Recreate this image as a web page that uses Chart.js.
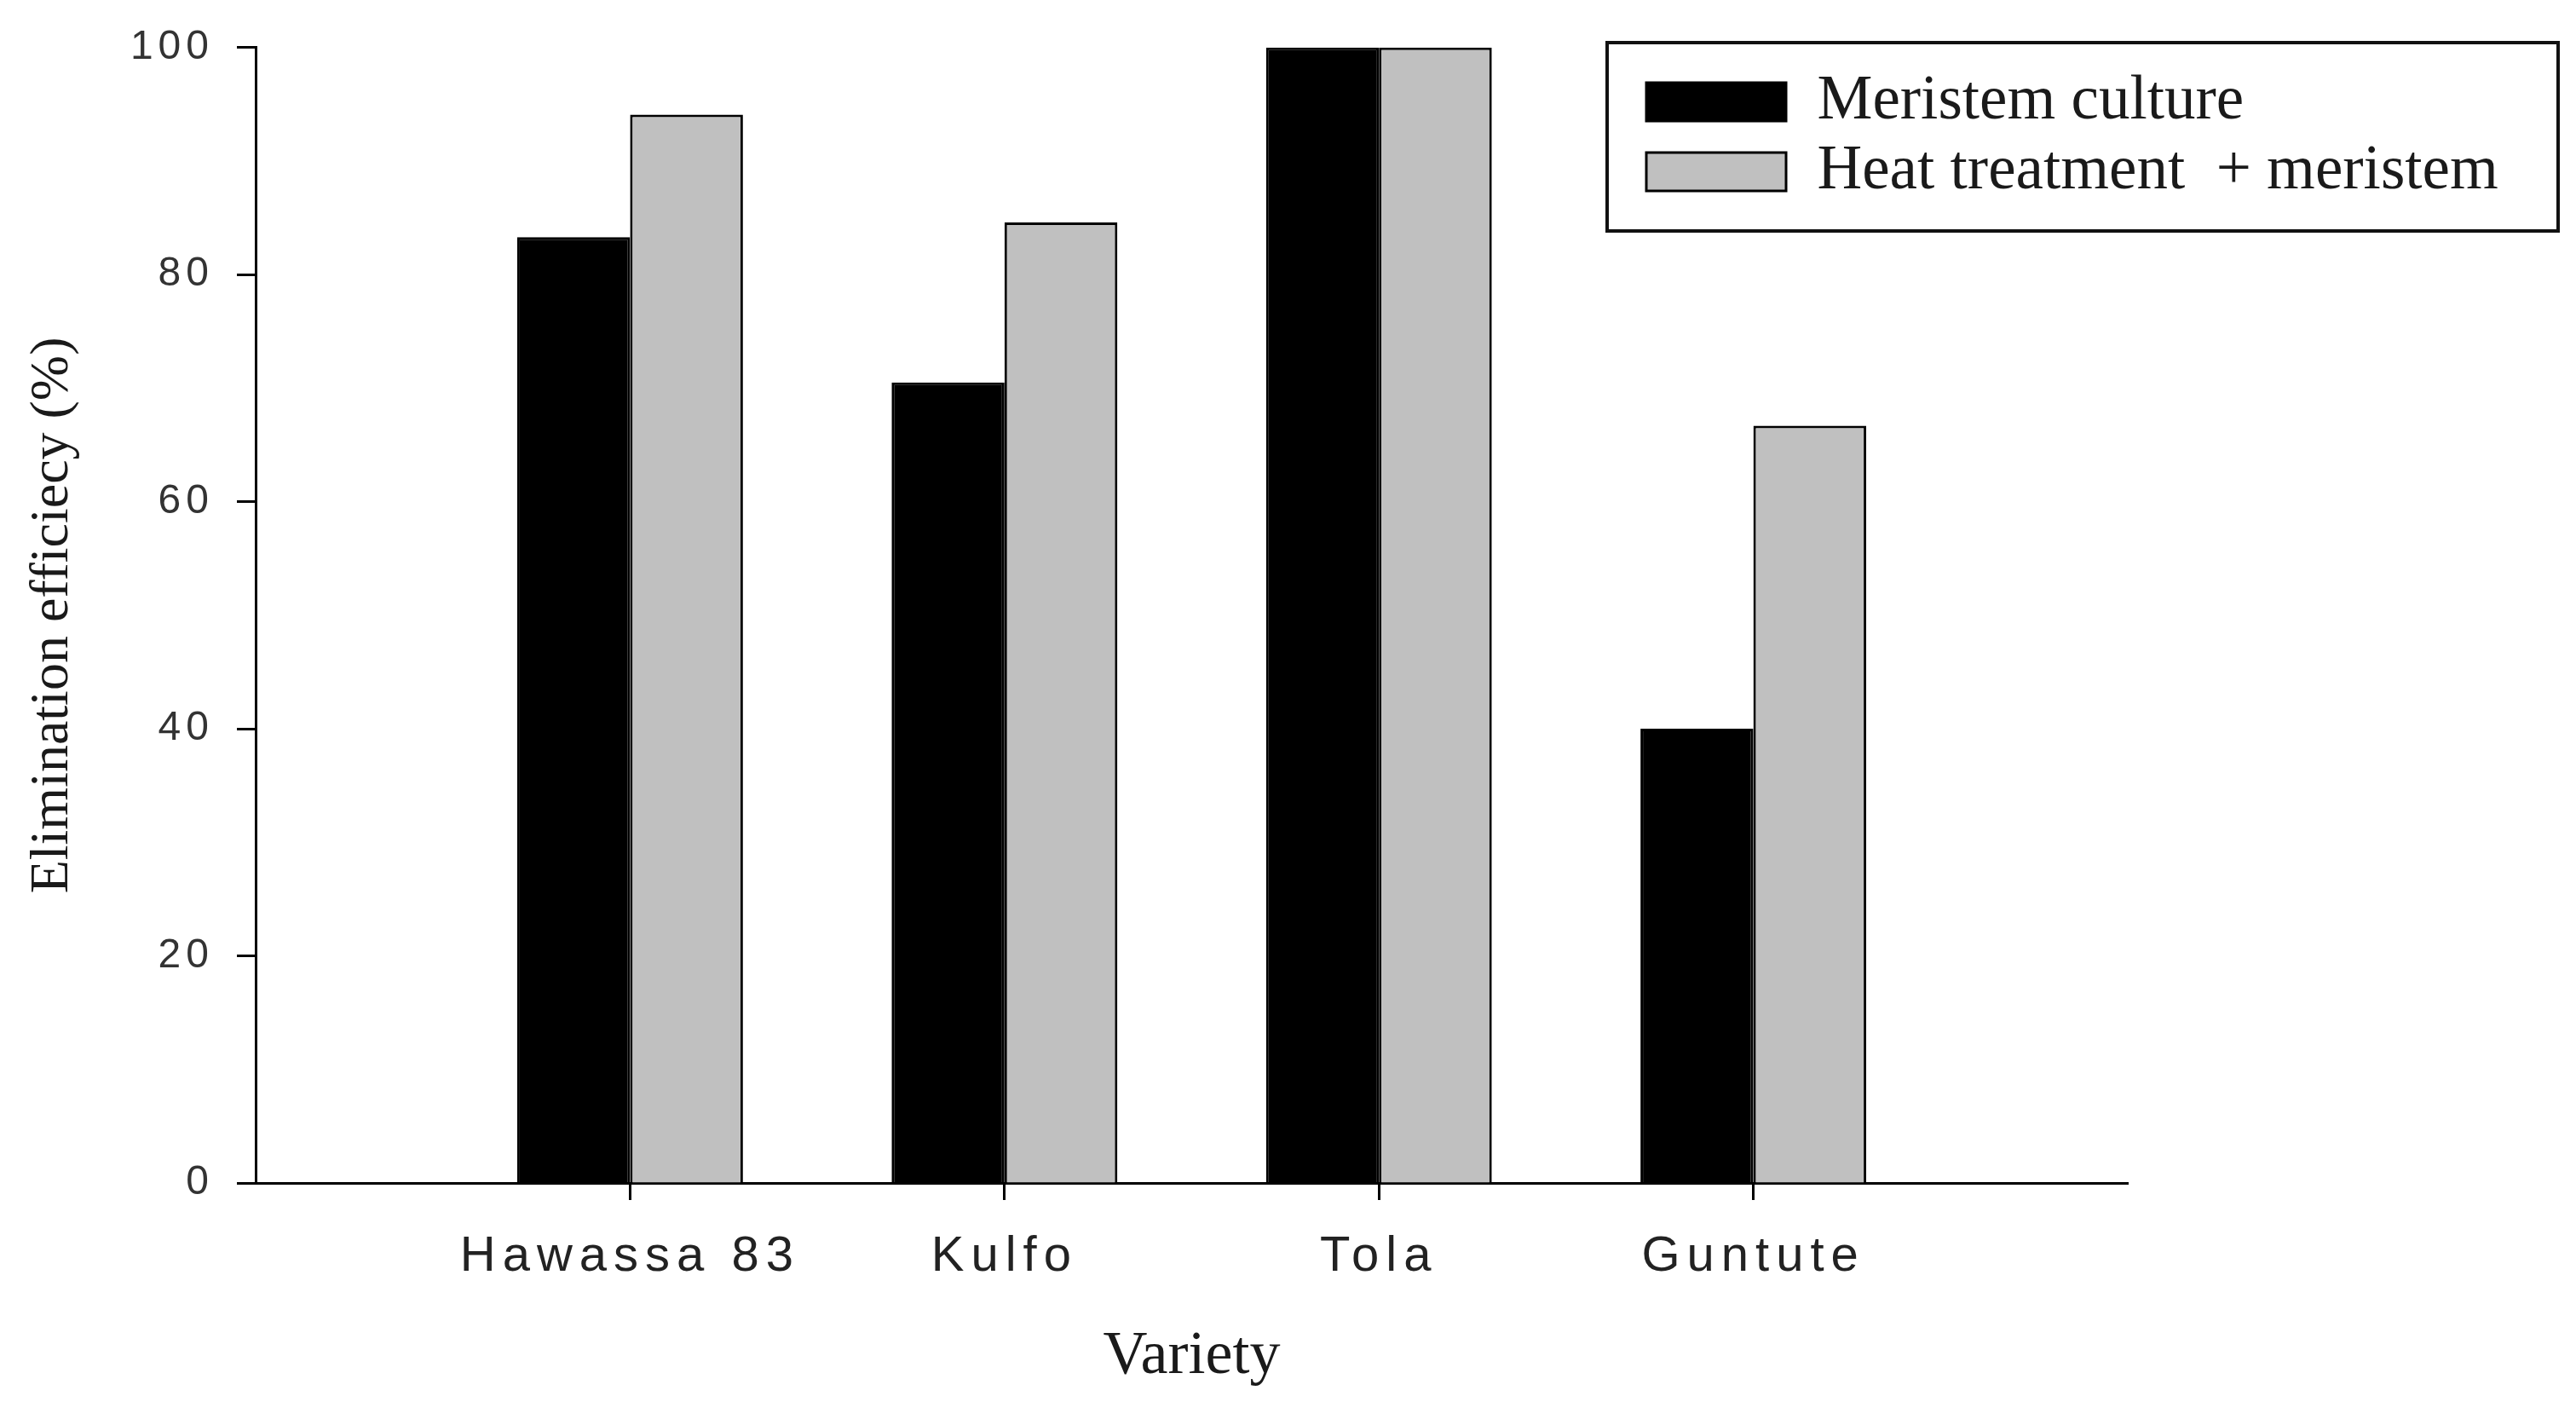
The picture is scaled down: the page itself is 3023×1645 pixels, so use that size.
<!DOCTYPE html>
<html>
<head>
<meta charset="utf-8">
<script src="https://cdn.jsdelivr.net/npm/chart.js@4.4.0/dist/chart.umd.min.js"></script>
<style>
  html, body { margin: 0; padding: 0; background: #fff; }
  #wrap { width: 3023px; height: 1645px; position: relative; }
</style>
</head>
<body>
<div id="wrap"><canvas id="effChart"></canvas></div>
<script>
// categories padded with blank slots so the varieties sit at 1..4 on a 0..5 axis
const varieties = ['', 'Hawassa 83', 'Kulfo', 'Tola', 'Guntute', ''];
const meristemCulture = [null, 83.3, 70.5, 100, 40, null];
const heatPlusMeristem = [null, 94.1, 84.6, 100, 66.7, null];
const seriesNames = ['Meristem culture', 'Heat treatment  + meristem'];
const yMin = 0;
const yMax = 100;
const yStep = 20;

const sansFont = '"Liberation Sans", Arial, sans-serif';
const serifFont = '"Liberation Serif", "Times New Roman", serif';

// move legend to the top right and draw a frame round it
const legendFrame = {
    id: 'legendFrame',
    afterLayout(chart) {
        const lg = chart.legend;
        lg.left = 1923;
        lg.top = 74;
        lg.right = lg.left + lg.width;
        lg.bottom = lg.top + lg.height;
    },
    afterDraw(chart) {
        const ctx = chart.ctx;
        ctx.save();
        ctx.strokeStyle = '#111';
        ctx.lineWidth = 4;
        ctx.strokeRect(1886, 50, 1116, 221);
        ctx.restore();
    }
};

// the tick labels in the source are drawn wide, so space the letters out a bit
const tickSpacing = {
    id: 'tickSpacing',
    afterLayout(chart) {
        [['x', '8px'], ['y', '6px']].forEach(([id, gap]) => {
            const sc = chart.scales[id];
            if (!sc || sc._spaced) return;
            const orig = sc.drawLabels;
            sc.drawLabels = function (area) {
                const c = this.ctx;
                c.save();
                c.letterSpacing = gap;
                orig.call(this, area);
                c.restore();
            };
            sc._spaced = true;
        });
    }
};

const ctx = document.getElementById('effChart').getContext('2d');
new Chart(ctx, {
    type: 'bar',
    data: {
        labels: varieties,
        datasets: [{
            label: seriesNames[0],
            data: meristemCulture,
            backgroundColor: '#000',
            borderColor: '#000',
            borderWidth: 3
        }, {
            label: seriesNames[1],
            data: heatPlusMeristem,
            backgroundColor: '#c0c0c0',
            borderColor: '#000',
            borderWidth: 3
        }]
    },
    options: {
        responsive: true,
        maintainAspectRatio: false,
        animation: false,
        layout: { padding: { top: 49, right: 526, bottom: 0, left: 0 } },
        datasets: {
            bar: { categoryPercentage: 0.603, barPercentage: 1.0 }
        },
        plugins: {
            tooltip: { enabled: false },
            legend: {
                position: 'chartArea',
                align: 'start',
                labels: {
                    boxWidth: 164,
                    boxHeight: 45,
                    padding: 9,
                    color: '#1a1a1a',
                    font: { family: serifFont, size: 73 }
                }
            }
        },
        scales: {
            x: {
                offset: false,
                border: { display: true, color: '#000', width: 3 },
                grid: {
                    offset: false,
                    drawOnChartArea: false,
                    drawTicks: true,
                    tickLength: 20,
                    tickWidth: 3,
                    tickColor: c => (c.index === 0 || c.index === varieties.length - 1) ? 'rgba(0,0,0,0)' : '#000'
                },
                ticks: {
                    autoSkip: false,
                    maxRotation: 0,
                    padding: 32,
                    color: '#222',
                    font: { family: sansFont, size: 58 }
                },
                title: {
                    display: true,
                    text: 'Variety',
                    color: '#1a1a1a',
                    padding: { top: 0, bottom: 10 },
                    font: { family: serifFont, size: 72 }
                },
                afterFit: s => { s.height = 257; }
            },
            y: {
                min: yMin,
                max: yMax,
                border: { display: true, color: '#000', width: 3 },
                grid: {
                    drawOnChartArea: false,
                    drawTicks: true,
                    tickLength: 22,
                    tickWidth: 3,
                    tickColor: '#000'
                },
                ticks: {
                    stepSize: yStep,
                    padding: 27,
                    color: '#333',
                    font: { family: sansFont, size: 48 }
                },
                title: {
                    display: true,
                    text: 'Elimination efficiecy (%)',
                    color: '#1a1a1a',
                    padding: { top: 24, bottom: 0 },
                    font: { family: serifFont, size: 64 }
                },
                afterFit: s => { s.width = 300; }
            }
        }
    },
    plugins: [legendFrame, tickSpacing]
});
</script>
</body>
</html>
